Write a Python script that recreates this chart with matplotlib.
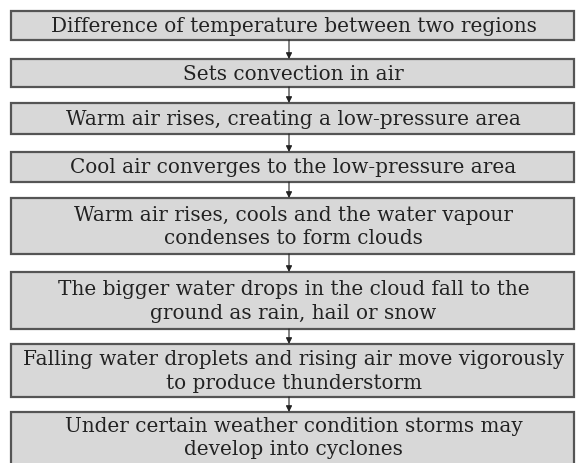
import matplotlib.pyplot as plt
from matplotlib.patches import Rectangle

steps = [
    "Difference of temperature between two regions",
    "Sets convection in air",
    "Warm air rises, creating a low-pressure area",
    "Cool air converges to the low-pressure area",
    "Warm air rises, cools and the water vapour\ncondenses to form clouds",
    "The bigger water drops in the cloud fall to the\nground as rain, hail or snow",
    "Falling water droplets and rising air move vigorously\nto produce thunderstorm",
    "Under certain weather condition storms may\ndevelop into cyclones",
]

# box layout in pixel units (top, bottom)
box_tops = [12, 60, 104, 153, 199, 273, 345, 413]
box_bots = [41, 88, 135, 183, 255, 330, 398, 470]
LEFT, RIGHT = 11, 574
ARROW_X = 289

FILL = "#d8d8d8"
EDGE = "#555555"
TEXT = "#222222"

fig = plt.figure(figsize=(5.76, 4.64), dpi=100)
ax = fig.add_axes([0, 0, 1, 1])
ax.set_xlim(0, 576)
ax.set_ylim(464, 0)
ax.axis("off")

for i, label in enumerate(steps):
    top, bot = box_tops[i], box_bots[i]
    ax.add_patch(Rectangle((LEFT, top), RIGHT - LEFT, bot - top,
                           facecolor=FILL, edgecolor=EDGE, linewidth=1.6))
    cy = (top + bot) / 2 if i < len(steps) - 1 else (top + 463) / 2
    ax.text((LEFT + RIGHT) / 2 + 1, cy, label, ha="center", va="center",
            fontsize=14.4, family="DejaVu Serif", color=TEXT,
            linespacing=1.32)
    if i < len(steps) - 1:
        ax.annotate("", xy=(ARROW_X, box_tops[i + 1]), xytext=(ARROW_X, bot),
                    arrowprops=dict(arrowstyle="-|>", color="#222222",
                                    lw=0.8, mutation_scale=9,
                                    shrinkA=0, shrinkB=0))

fig.savefig("out.png", dpi=100)
